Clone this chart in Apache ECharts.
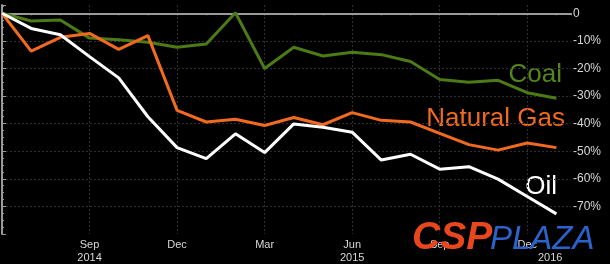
<!DOCTYPE html>
<html>
<head>
<meta charset="utf-8">
<script src="https://cdn.jsdelivr.net/npm/echarts@6/dist/echarts.min.js"></script>
<style>
html,body{margin:0;padding:0;background:#000;}
#c{width:610px;height:264px;}
</style>
</head>
<body>
<div id="c"></div>
<script>
// Monthly categories (Jun 2014 .. Jan 2016)
var months = ['Jun','Jul','Aug','Sep','Oct','Nov','Dec','Jan','Feb','Mar','Apr','May','Jun','Jul','Aug','Sep','Oct','Nov','Dec','Jan'];
var years  = ['2014','2014','2014','2014','2014','2014','2014','2015','2015','2015','2015','2015','2015','2015','2015','2015','2015','2015','2015','2016'];
// Cumulative price change, %
var coal = [0, -2.8, -2.4, -9.0, -9.6, -10.5, -12.3, -11.1, 0.2, -20.0, -12.3, -15.5, -14.1, -15.0, -17.5, -24.0, -25.0, -24.3, -28.8, -30.8];
var gas  = [0, -13.7, -8.7, -7.3, -13.1, -8.1, -35.2, -39.4, -38.4, -40.7, -37.8, -40.4, -36.0, -38.8, -39.4, -43.5, -47.6, -49.6, -47.0, -48.7];
var oil  = [0, -5.5, -7.8, -15.7, -23.4, -37.5, -48.7, -52.7, -43.7, -50.5, -40.1, -41.3, -43.1, -53.2, -51.1, -56.5, -55.6, -60.1, -66.4, -72.7];
var yTicks = [0, -10, -20, -30, -40, -50, -60, -70];

function pairs(arr){ return arr.map(function(v,i){ return [i, v]; }); }

var chart = echarts.init(document.getElementById('c'), null, {renderer:'canvas'});
var FONT = '"Liberation Sans", Arial, sans-serif';
chart.setOption({
  backgroundColor: '#000',
  animation: false,
  grid: {left: 2, right: 39, top: 5, bottom: 26},
  xAxis: {
    type: 'value', min: 0, max: 19.5, interval: 3,
    axisLine: {show: true, lineStyle: {color: '#9a9a9a', width: 2}},
    axisTick: {show: true, length: 2, lineStyle: {color: '#9a9a9a'}},
    minorTick: {show: true, splitNumber: 3, length: 2, lineStyle: {color: '#9a9a9a'}},
    splitLine: {show: true, showMinLine: false, showMaxLine: false, lineStyle: {color: '#2e2e2e', type: [2, 2], width: 1}},
    axisLabel: {
      color: '#d8d8d8', fontFamily: FONT, fontSize: 11, margin: 4, lineHeight: 13,
      showMaxLabel: false, showMinLabel: false,
      formatter: function(v){
        var i = Math.round(v);
        if (i !== v || i % 3 !== 0 || i === 0) return '';
        var s = months[i];
        if (i === 3 || i === 12) s += '\n' + years[i];
        if (i === 18) s = '{m|' + s + '}\n{y|' + years[19] + '}';
        return s;
      },
      rich: {
        m: {color: '#d8d8d8', fontFamily: FONT, fontSize: 11, lineHeight: 13},
        y: {color: '#d8d8d8', fontFamily: FONT, fontSize: 11, lineHeight: 13, padding: [0, 0, 0, 46]}
      }
    }
  },
  yAxis: {
    type: 'value', position: 'right', min: -80, max: 3, interval: 10,
    axisLine: {show: true, lineStyle: {color: '#9a9a9a', width: 2}},
    axisTick: {show: true, length: 4, lineStyle: {color: '#9a9a9a'}},
    minorTick: {show: true, splitNumber: 4, length: 2, lineStyle: {color: '#9a9a9a'}},
    splitLine: {show: true, showMinLine: false, showMaxLine: false, lineStyle: {color: '#2e2e2e', type: [2, 2], width: 1}},
    axisLabel: {
      color: '#d8d8d8', fontFamily: FONT, fontSize: 12, margin: 2,
      showMaxLabel: false, showMinLabel: false,
      formatter: function(v){
        if (yTicks.indexOf(v) < 0) return '';
        return v === 0 ? '0' : v + '%';
      }
    }
  },
  series: [
    {name: 'Coal', type: 'line', data: pairs(coal), symbol: 'none', lineStyle: {color: '#4b7a16', width: 3}, z: 3},
    {name: 'Natural Gas', type: 'line', data: pairs(gas), symbol: 'none', lineStyle: {color: '#f26a1f', width: 3}, z: 4},
    {name: 'Oil', type: 'line', data: pairs(oil), symbol: 'none', lineStyle: {color: '#ffffff', width: 3}, z: 5}
  ],
  graphic: [
    {type: 'text', right: 48, top: 62, style: {text: 'Coal', fill: '#54861c', font: '26px ' + FONT}},
    {type: 'text', right: 45, top: 106, style: {text: 'Natural Gas', fill: '#f26a1f', font: '26px ' + FONT}},
    {type: 'text', right: 53, top: 174, style: {text: 'Oil', fill: '#ffffff', font: '26px ' + FONT}},
    {type: 'text', left: 412, top: 219, z: 100, style: {text: 'CSP', fill: '#e8471e', font: 'italic bold 39px ' + FONT}},
    {type: 'text', left: 490, top: 223, z: 100, style: {text: 'PLAZA', fill: '#2a63cc', font: 'italic 33px ' + FONT}}
  ]
});
</script>
</body>
</html>
